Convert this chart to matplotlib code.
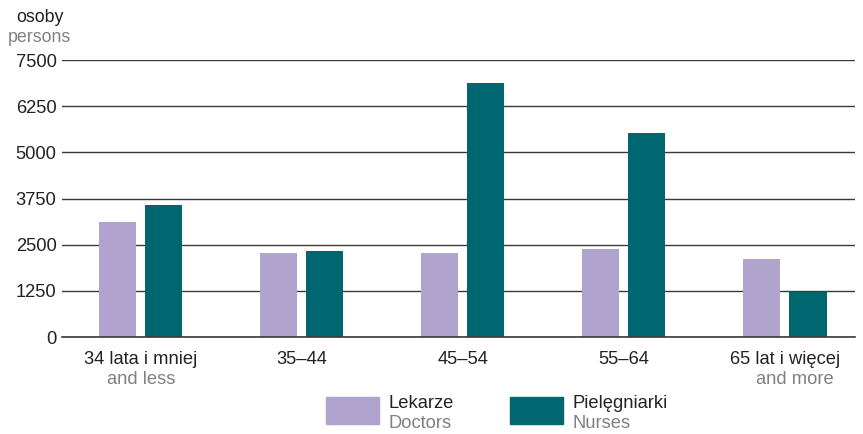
import matplotlib
matplotlib.use("Agg")
import matplotlib.pyplot as plt
import numpy as np
from matplotlib.patches import Rectangle

plt.rcParams['font.family'] = ['Liberation Sans', 'DejaVu Sans']

categories_pl = ["34 lata i mniej", "35–44", "45–54", "55–64", "65 lat i więcej"]
categories_en = ["and less", "", "", "", "and more"]
doctors = [3120, 2270, 2265, 2370, 2100]
nurses = [3575, 2335, 6885, 5515, 1210]
yticks = [0, 1250, 2500, 3750, 5000, 6250, 7500]

c_doc = "#B0A3CD"
c_nur = "#00666F"
gray = "#808080"
dark = "#222222"
fs = 13.2

fig = plt.figure(figsize=(8.63, 4.34), dpi=100)
ax = fig.add_axes([62/863, 1-337/434, (855-62)/863, (337-60)/434])

x = np.arange(len(categories_pl))
w = 0.23
ax.bar(x - 0.143, doctors, w, color=c_doc, zorder=3)
ax.bar(x + 0.143, nurses, w, color=c_nur, zorder=3)

ax.set_xlim(-0.49, 4.435)
ax.set_ylim(0, 7500)
ax.set_yticks(yticks)
ax.set_yticklabels([str(v) for v in yticks], fontsize=fs, color=dark)
ax.yaxis.grid(True, color="#3a3a3a", lw=1, zorder=0)
ax.axhline(0, color="#3a3a3a", lw=1.2, zorder=4, clip_on=False)
ax.tick_params(axis='y', length=0, pad=4)
ax.set_xticks([])
for s in ax.spines.values():
    s.set_visible(False)

for i, (pl, en) in enumerate(zip(categories_pl, categories_en)):
    ax.text(i, -0.05, pl, transform=ax.get_xaxis_transform(), ha='center', va='top',
            fontsize=fs, color=dark)
    if en:
        dx = 0.06 if i == 4 else 0
        ax.text(i + dx, -0.122, en, transform=ax.get_xaxis_transform(), ha='center', va='top',
                fontsize=fs, color=gray)

fig.text(16/863, 1-17/434, "osoby", fontsize=12.8, color=dark, va='center', ha='left')
fig.text(8/863, 1-38/434, "persons", fontsize=12.8, color=gray, va='center', ha='left')

# legend
for (px, label_pl, label_en, col) in [(326, "Lekarze", "Doctors", c_doc),
                                      (510, "Pielęgniarki", "Nurses", c_nur)]:
    fig.patches.append(Rectangle((px/863, 1-424/434), 53/863, 27/434,
                                 transform=fig.transFigure, color=col))
    fig.text((px+62)/863, 1-404/434, label_pl, fontsize=fs, color=dark, va='center', ha='left')
    fig.text((px+62)/863, 1-424/434, label_en, fontsize=fs, color=gray, va='center', ha='left')

fig.savefig("out.png", dpi=100)
